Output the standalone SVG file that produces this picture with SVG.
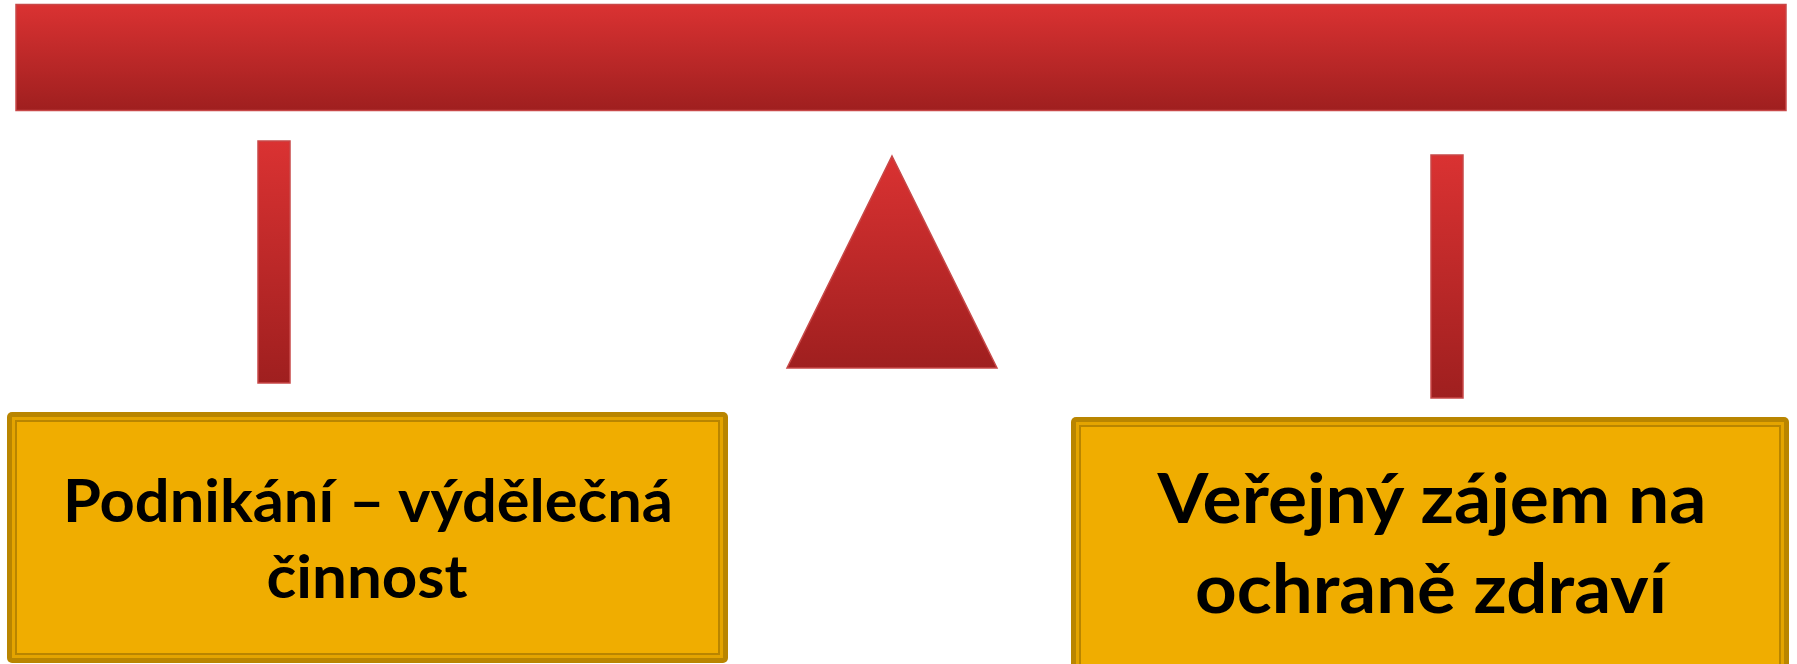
<svg xmlns="http://www.w3.org/2000/svg" width="1797" height="664" viewBox="0 0 1797 664">
<defs>
<linearGradient id="red" x1="0" y1="0" x2="0" y2="1">
<stop offset="0" stop-color="#da3232"/>
<stop offset="1" stop-color="#9f1f1f"/>
</linearGradient>
<style>
.red{fill:url(#red);stroke:#c84848;stroke-width:1.5}
.outer{fill:#b98500}
.mid{fill:#e4a400}
.inner{fill:#f0ad00;stroke:#b98500;stroke-width:2}
.lbl{font-family:Lato,"Open Sans",sans-serif;font-weight:bold;fill:#000;text-anchor:middle}
</style>
</defs>
<g id="beam"><rect class="red" x="16" y="4.5" width="1770" height="106"/></g>
<g id="left-post"><rect class="red" x="258" y="141" width="32" height="242"/></g>
<g id="fulcrum"><polygon class="red" points="892,156 997,368 787,368"/></g>
<g id="right-post"><rect class="red" x="1431" y="155" width="32" height="243"/></g>
<g id="left-box">
<rect class="outer" x="7" y="412" width="721" height="251" rx="5"/>
<rect class="mid" x="12" y="417" width="711" height="241"/>
<rect class="inner" x="16" y="421" width="703" height="233"/>
<text class="lbl" font-size="60" x="368" y="522" textLength="610" lengthAdjust="spacingAndGlyphs">Podnikání – výdělečná</text>
<text class="lbl" font-size="60" x="367" y="598" textLength="201" lengthAdjust="spacingAndGlyphs">činnost</text>
</g>
<g id="right-box">
<rect class="outer" x="1071" y="417" width="718" height="260" rx="5"/>
<rect class="mid" x="1076" y="422" width="708" height="250"/>
<rect class="inner" x="1080" y="426" width="700" height="250"/>
<text class="lbl" font-size="68" x="1432" y="523" textLength="549" lengthAdjust="spacingAndGlyphs">Veřejný zájem na</text>
<text class="lbl" font-size="68" x="1431" y="613" textLength="472" lengthAdjust="spacingAndGlyphs">ochraně zdraví</text>
</g>
<g id="connectors"></g>
</svg>
